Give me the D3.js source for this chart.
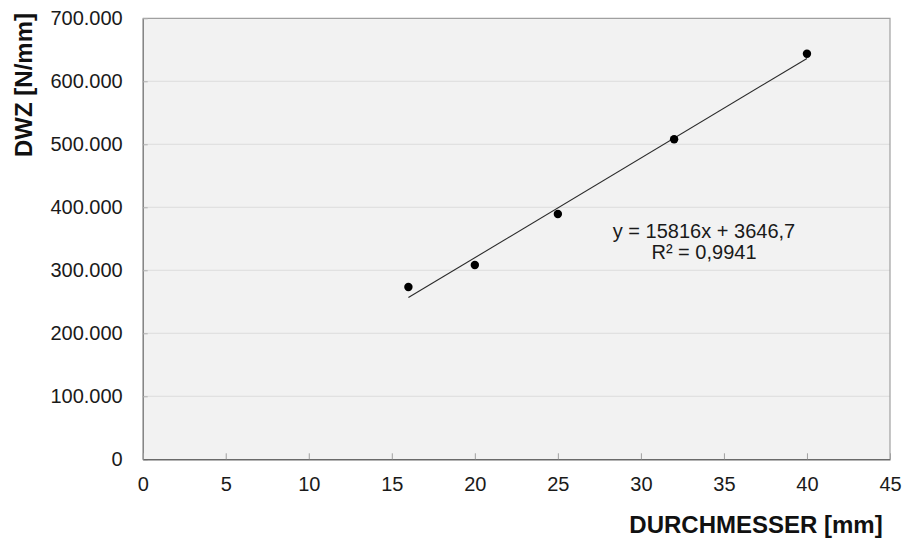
<!DOCTYPE html>
<html>
<head>
<meta charset="utf-8">
<script src="https://cdn.jsdelivr.net/npm/d3@7"></script>
<style>
  body { margin: 0; background: #fff; }
  svg { display: block; font-family: "Liberation Sans", Arial, sans-serif; }
</style>
</head>
<body>
<div id="chart"></div>
<script>
var diameters = [16, 20, 25, 32, 40];
var dwz = [273500, 308400, 389400, 508000, 643800];
var xTicks = [0, 5, 10, 15, 20, 25, 30, 35, 40, 45];
var yTicks = [0, 100000, 200000, 300000, 400000, 500000, 600000, 700000];
var trendCoef = [15816, 3646.7]; // slope, intercept
var trendLabels = ["y = 15816x + 3646,7", "R\u00b2 = 0,9941"];

var width = 904, height = 540;
var margin = {top: 18.3, right: 14, bottom: 80.7, left: 142.7};
var w = width - margin.left - margin.right,
    h = height - margin.top - margin.bottom;

var svg = d3.select('#chart').append('svg')
    .attr('width', width)
    .attr('height', height);

var g = svg.append('g')
    .attr('transform', 'translate(' + margin.left + ',' + margin.top + ')');

var x = d3.scaleLinear().domain([0, 45]).range([0, w]);
var y = d3.scaleLinear().domain([0, 700000]).range([h, 0]);

// plot background
g.append('rect')
    .attr('width', w)
    .attr('height', h)
    .attr('fill', '#f2f2f2');

// horizontal grid
g.selectAll('line.grid')
  .data(yTicks.slice(1, -1))
  .enter().append('line')
    .attr('class', 'grid')
    .attr('x1', 0).attr('x2', w)
    .attr('y1', function(d) { return y(d); })
    .attr('y2', function(d) { return y(d); })
    .attr('stroke', '#dcdcdc')
    .attr('stroke-width', 1);

// top / right border
g.append('path')
    .attr('d', 'M0,0H' + w + 'V' + h)
    .attr('fill', 'none')
    .attr('stroke', '#a0a0a0')
    .attr('stroke-width', 1.2);

var fmt = function(d) { return d === 0 ? '0' : d3.format(',')(d).replace(/,/g, '.'); };

// y axis
var yAxis = g.append('g')
    .call(d3.axisLeft(y).tickValues(yTicks).tickFormat(fmt).tickSizeInner(-5).tickSizeOuter(0).tickPadding(20));
yAxis.select('.domain').attr('stroke', '#7a7a7a').attr('stroke-width', 1.4);
yAxis.selectAll('.tick line').attr('stroke', '#b0b0b0');
yAxis.selectAll('.tick text')
    .attr('font-size', 20)
    .attr('fill', '#1a1a1a');

// x axis
var xAxis = g.append('g')
    .attr('transform', 'translate(0,' + h + ')')
    .call(d3.axisBottom(x).tickValues(xTicks).tickSizeInner(-6).tickSizeOuter(0).tickPadding(18));
xAxis.select('.domain').attr('stroke', '#6a6a6a').attr('stroke-width', 1.6);
xAxis.selectAll('.tick line').attr('stroke', '#a0a0a0');
xAxis.selectAll('.tick text')
    .attr('font-size', 20)
    .attr('fill', '#1a1a1a');

// trend line
var tx = d3.extent(diameters);
g.append('line')
    .attr('x1', x(tx[0])).attr('y1', y(trendCoef[0] * tx[0] + trendCoef[1]))
    .attr('x2', x(tx[1])).attr('y2', y(trendCoef[0] * tx[1] + trendCoef[1]))
    .attr('stroke', '#2a2a2a')
    .attr('stroke-width', 1.1);

// points
g.selectAll('circle')
  .data(diameters)
  .enter().append('circle')
    .attr('cx', function(d) { return x(d); })
    .attr('cy', function(d, i) { return y(dwz[i]); })
    .attr('r', 4.2)
    .attr('fill', '#000');

// equation label
g.append('text')
    .attr('x', 704 - margin.left)
    .attr('y', 238 - margin.top)
    .attr('text-anchor', 'middle')
    .attr('font-size', 20)
    .attr('fill', '#1a1a1a')
  .selectAll('tspan')
  .data(trendLabels)
  .enter().append('tspan')
    .attr('x', 704 - margin.left)
    .attr('dy', function(d, i) { return i === 0 ? 0 : 21; })
    .text(function(d) { return d; });

// axis titles
svg.append('text')
    .attr('x', 756)
    .attr('y', 533)
    .attr('text-anchor', 'middle')
    .attr('font-size', 24)
    .attr('font-weight', 'bold')
    .attr('fill', '#111')
    .text('DURCHMESSER [mm]');

svg.append('text')
    .attr('transform', 'translate(32,85) rotate(-90)')
    .attr('text-anchor', 'middle')
    .attr('font-size', 24)
    .attr('font-weight', 'bold')
    .attr('fill', '#111')
    .text('DWZ [N/mm]');
</script>
</body>
</html>
